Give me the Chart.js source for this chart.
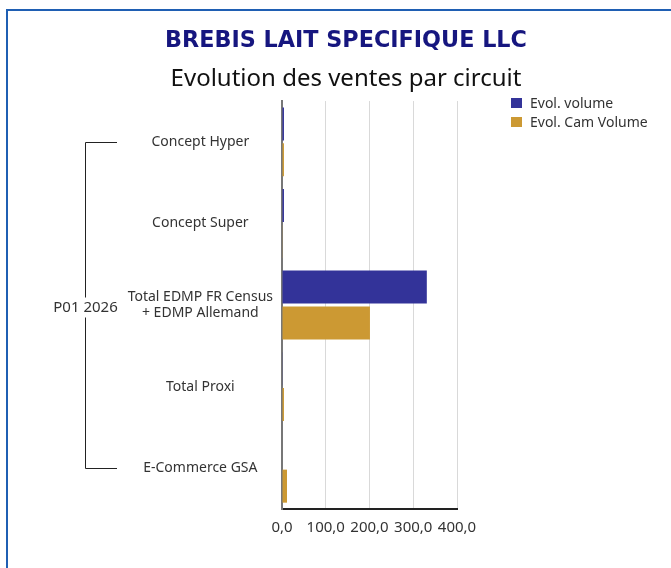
<!DOCTYPE html>
<html>
<head>
<meta charset="utf-8">
<script src="https://cdn.jsdelivr.net/npm/chart.js"></script>
<style>
    body { margin: 0; background: #fff; overflow: hidden; width: 671px; height: 568px; position: relative; font-family: "Noto Sans", sans-serif; }
    #frame { position: absolute; left: 6px; top: 9px; width: 700px; height: 600px; border-left: 2px solid #1f5fb3; border-top: 2px solid #1f5fb3; }
    #chart { position: absolute; left: 8px; top: 11px; }
    #legend { position: absolute; left: 511px; top: 93px; font-size: 14px; color: #333; }
    .item { display: flex; align-items: center; height: 19px; white-space: nowrap; }
    .box { width: 11px; height: 10px; margin-right: 8px; }
</style>
</head>
<body>
<div id="frame"></div>
<canvas id="chart" width="676" height="557"></canvas>
<div id="legend"></div>
<script>
const categories = ['Concept Hyper', 'Concept Super', ['Total EDMP FR Census', '+ EDMP Allemand'], 'Total Proxi', 'E-Commerce GSA'];
const evolVolume = [4.5, 4.5, 331, 1.5, 0];
const evolCamVolume = [4.5, 1.5, 201, 4.5, 11.5];
const xTicks = [0, 100, 200, 300, 400];
const groupLabel = 'P01 2026';
const seriesNames = ['Evol. volume', 'Evol. Cam Volume'];
const seriesColors = ['#333399', '#cc9933'];

Chart.defaults.font.family = '"Noto Sans", sans-serif';
Chart.defaults.color = '#333';

// bracket + group label on the left of the category labels
let groupBracket = {
    id: 'groupBracket',
    afterDraw: (chart) => {
        const ctx = chart.ctx;
        const yScale = chart.scales.y;
        const top = Math.round(yScale.getPixelForValue(0)) + 0.5;
        const bottom = Math.round(yScale.getPixelForValue(categories.length - 1)) + 0.5;
        const x = chart.chartArea.left - 197 + 0.5;
        const x2 = chart.chartArea.left - 165;
        ctx.save();
        ctx.strokeStyle = '#222';
        ctx.lineWidth = 1;
        ctx.beginPath();
        ctx.moveTo(x2, top);
        ctx.lineTo(x, top);
        ctx.lineTo(x, bottom);
        ctx.lineTo(x2, bottom);
        ctx.stroke();
        ctx.font = '15px "Noto Sans"';
        const mid = (top + bottom) / 2 + 2;
        const w = ctx.measureText(groupLabel).width;
        ctx.fillStyle = '#fff';
        ctx.fillRect(x - w / 2 - 2, mid - 10, w + 4, 20);
        ctx.fillStyle = '#333';
        ctx.textAlign = 'center';
        ctx.textBaseline = 'middle';
        ctx.fillText(groupLabel, x, mid);
        ctx.restore();
    }
};

const chart = new Chart(document.getElementById('chart'), {
    type: 'bar',
    data: {
        labels: categories,
        datasets: [{
            label: seriesNames[0],
            data: evolVolume,
            backgroundColor: seriesColors[0]
        }, {
            label: seriesNames[1],
            data: evolCamVolume,
            backgroundColor: seriesColors[1]
        }]
    },
    options: {
        indexAxis: 'y',
        responsive: false,
        animation: false,
        categoryPercentage: 0.88,
        barPercentage: 0.92,
        layout: { padding: { left: 0, right: 0, top: 0, bottom: 21 } },
        plugins: {
            legend: { display: false },
            tooltip: { enabled: false },
            title: {
                display: true,
                text: 'BREBIS LAIT SPECIFIQUE LLC',
                color: '#16167f',
                font: { family: '"DejaVu Sans"', size: 22.3, weight: 'bold', lineHeight: 1.2 },
                padding: { top: 16.5, bottom: 0 }
            },
            subtitle: {
                display: true,
                text: 'Evolution des ventes par circuit',
                color: '#111',
                font: { size: 24, lineHeight: 1.2 },
                padding: { top: 10, bottom: 8 }
            }
        },
        scales: {
            x: {
                min: xTicks[0],
                max: xTicks[xTicks.length - 1],
                afterBuildTicks: (scale) => { scale.ticks = xTicks.map(v => ({ value: v })); },
                // keep room on the right for the legend
                afterFit: (scale) => { scale.paddingRight = 227; },
                ticks: {
                    padding: 10,
                    font: { size: 15 },
                    color: '#333',
                    callback: (v) => v.toFixed(1).replace('.', ',')
                },
                grid: { color: '#d9d9d9', drawTicks: false },
                border: { color: '#222', width: 2 }
            },
            y: {
                afterFit: (scale) => { scale.width = 274; },
                ticks: {
                    crossAlign: 'center',
                    padding: 9,
                    autoSkip: false,
                    font: { size: 14, lineHeight: 1.15 },
                    color: '#333'
                },
                grid: { display: false, drawTicks: false },
                border: { color: '#777', width: 2 }
            }
        }
    },
    plugins: [groupBracket]
});

// html legend
const legend = document.getElementById('legend');
chart.data.datasets.forEach(ds => {
    const item = document.createElement('div');
    item.className = 'item';
    const box = document.createElement('span');
    box.className = 'box';
    box.style.background = ds.backgroundColor;
    item.appendChild(box);
    item.appendChild(document.createTextNode(ds.label));
    legend.appendChild(item);
});
</script>
</body>
</html>
